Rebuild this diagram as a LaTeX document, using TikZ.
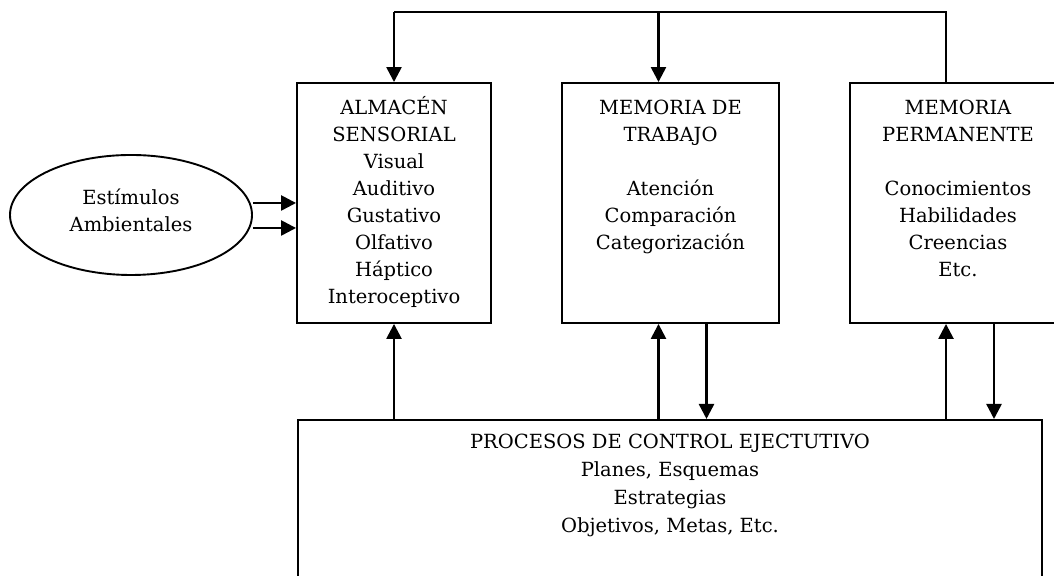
\documentclass[tikz,border=0pt]{standalone}
\usepackage{fontspec}
\setmainfont{DejaVu Serif}
\usetikzlibrary{arrows.meta,shapes.geometric}

\tikzset{
  caja/.style={draw, line width=0.95pt, minimum height=120pt, inner sep=0pt},
  texto/.style={align=center, font=\fontsize{9.75}{13.5}\selectfont, inner sep=0pt},
  flecha/.style={line width=1.25pt, -{Triangle[length=7.5pt,width=7.5pt]}},
  linea/.style={line width=0.85pt}
}

\begin{document}
\begin{tikzpicture}[x=1pt, y=1pt]
  \clip (0,0) rectangle (527,288);

  % Stimuli
  \node[draw, ellipse, line width=0.95pt, minimum width=121pt, minimum height=60pt, texto] (estimulos) at (65.5,180.5) {Estímulos\\Ambientales\\[-9pt]};

  % Boxes
  \node[caja, minimum width=97pt] (almacen) at (197,186.5) {};
  \node[caja, minimum width=108.5pt] (trabajo) at (335.25,186.5) {};
  \node[caja, minimum width=108pt] (permanente) at (479,186.5) {};
  \node[caja, minimum width=372pt, minimum height=100pt, anchor=north] (control) at (335,78.5) {};

  % Box texts
  \node[texto, anchor=north] (almacentxt) at ([yshift=-6.5pt]almacen.north) {\strut ALMACÉN\\SENSORIAL\\Visual\\Auditivo\\Gustativo\\Olfativo\\Háptico\\Interoceptivo};
  \node[texto, anchor=north] (trabajotxt) at ([yshift=-6.5pt]trabajo.north) {\strut MEMORIA DE\\TRABAJO\\[13.5pt]Atención\\Comparación\\Categorización};
  \node[texto, anchor=north] (permanentetxt) at ([yshift=-6.5pt]permanente.north) {\strut MEMORIA\\PERMANENTE\\[13.5pt]Conocimientos\\Habilidades\\Creencias\\Etc.};
  \node[texto, anchor=north, font=\fontsize{9.75}{14}\selectfont] (controltxt) at ([yshift=-4.7pt]control.north) {\strut PROCESOS DE CONTROL EJECTUTIVO\\Planes, Esquemas\\Estrategias\\Objetivos, Metas, Etc.};

  % Input arrows
  \draw[flecha] (estimulos.east |- almacen.west) -- (almacen.west);
  \draw[flecha] ([yshift=-12.5pt]estimulos.east |- almacen.west) -- ([yshift=-12.5pt]almacen.west);

  % Feedback along the top
  \coordinate (arriba) at (0,282);
  \draw[linea] ([xshift=-6pt]permanente.north) |- (arriba -| almacen.north);
  \draw[flecha] (arriba -| almacen.north) -- (almacen.north);
  \draw[flecha] ([xshift=-6pt]trabajo.north |- arriba) -- ([xshift=-6pt]trabajo.north);

  % Executive control links
  \draw[flecha] (almacen.south |- control.north) -- (almacen.south);
  \foreach \m in {trabajo,permanente}{
    \draw[flecha] ([xshift=-6pt]\m.south |- control.north) -- ([xshift=-6pt]\m.south);
    \draw[flecha] ([xshift=18pt]\m.south) -- ([xshift=18pt]\m.south |- control.north);
  }
\end{tikzpicture}
\end{document}
